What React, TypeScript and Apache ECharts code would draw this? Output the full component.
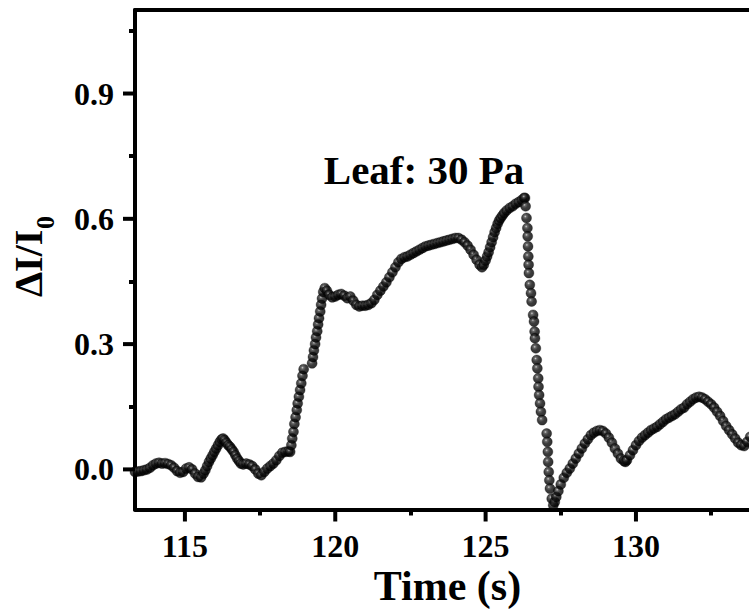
import { useEffect, useRef } from "react";
import * as echarts from "echarts";

// ---- data: [time (s), ΔI/I0] ----
const restPhase: [number, number][] = [
  [113.34, -0.006], [113.44, -0.005], [113.54, -0.004], [113.64, -0.002], [113.74, 0.0],
  [113.84, 0.004], [113.94, 0.01], [114.04, 0.014], [114.14, 0.016], [114.24, 0.014],
  [114.34, 0.015], [114.44, 0.013], [114.54, 0.01], [114.64, 0.004], [114.74, -0.004],
  [114.84, -0.008], [114.94, -0.006], [115.04, 0.002], [115.14, 0.005], [115.24, 0.0],
  [115.34, -0.01], [115.44, -0.018], [115.54, -0.019], [115.62, -0.01], [115.68, -0.002],
  [115.74, 0.008], [115.8, 0.018], [115.86, 0.026], [115.92, 0.034], [115.98, 0.042],
  [116.04, 0.05], [116.1, 0.058], [116.16, 0.066], [116.22, 0.072], [116.27, 0.074],
  [116.32, 0.07], [116.38, 0.064], [116.44, 0.058], [116.5, 0.054], [116.56, 0.048],
  [116.62, 0.042], [116.68, 0.034], [116.74, 0.026], [116.8, 0.02], [116.86, 0.014],
  [116.94, 0.012], [117.04, 0.014], [117.14, 0.012], [117.24, 0.008], [117.34, 0.0],
  [117.44, -0.01], [117.54, -0.014], [117.64, -0.006], [117.74, 0.002], [117.84, 0.008],
  [117.94, 0.014], [118.04, 0.022], [118.14, 0.032], [118.24, 0.04], [118.34, 0.042],
  [118.44, 0.043],
];

const riseDots: [number, number][] = [
  [118.5, 0.042], [118.54, 0.058], [118.57, 0.074], [118.61, 0.09], [118.64, 0.109],
  [118.68, 0.125], [118.72, 0.142], [118.75, 0.158], [118.79, 0.174], [118.83, 0.19],
  [118.87, 0.206], [118.91, 0.224], [118.95, 0.24],
  [119.23, 0.254], [119.26, 0.269], [119.29, 0.285], [119.33, 0.3], [119.36, 0.316],
  [119.4, 0.331], [119.43, 0.347], [119.46, 0.362], [119.5, 0.378], [119.53, 0.394],
  [119.56, 0.409], [119.6, 0.425],
];

const plateau: [number, number][] = [
  [119.65, 0.434], [119.72, 0.428], [119.8, 0.418], [119.9, 0.412], [120.0, 0.414],
  [120.1, 0.418], [120.2, 0.42], [120.3, 0.416], [120.4, 0.41], [120.5, 0.414],
  [120.6, 0.404], [120.7, 0.394], [120.8, 0.39], [120.9, 0.392], [121.0, 0.392],
  [121.1, 0.394], [121.2, 0.398], [121.3, 0.406], [121.4, 0.418], [121.5, 0.428],
  [121.6, 0.438], [121.7, 0.448], [121.8, 0.46], [121.9, 0.472], [122.0, 0.484],
  [122.1, 0.496], [122.2, 0.504], [122.3, 0.508], [122.4, 0.51], [122.5, 0.514],
  [122.6, 0.518], [122.7, 0.522], [122.8, 0.526], [122.9, 0.53], [123.0, 0.534],
  [123.1, 0.536], [123.2, 0.538], [123.3, 0.54], [123.4, 0.542], [123.5, 0.544],
  [123.6, 0.546], [123.7, 0.548], [123.8, 0.55], [123.9, 0.552], [124.0, 0.554],
  [124.1, 0.554], [124.2, 0.55], [124.3, 0.544], [124.4, 0.536], [124.5, 0.526],
  [124.6, 0.514], [124.7, 0.502], [124.8, 0.49], [124.88, 0.484], [124.94, 0.49],
  [125.0, 0.5], [125.05, 0.51], [125.1, 0.52], [125.15, 0.532], [125.2, 0.544],
  [125.25, 0.556], [125.3, 0.568], [125.35, 0.578], [125.4, 0.588], [125.45, 0.596],
  [125.5, 0.602], [125.56, 0.608], [125.62, 0.614], [125.7, 0.62], [125.8, 0.626],
  [125.9, 0.63], [126.0, 0.636], [126.1, 0.64], [126.2, 0.645], [126.28, 0.65],
];

const dropDots: [number, number][] = [
  [126.31, 0.65], [126.33, 0.63], [126.36, 0.602], [126.39, 0.578], [126.4, 0.558],
  [126.41, 0.534], [126.42, 0.51], [126.43, 0.49], [126.44, 0.47], [126.47, 0.442],
  [126.51, 0.422], [126.53, 0.402], [126.58, 0.37], [126.61, 0.354], [126.63, 0.33],
  [126.64, 0.314], [126.67, 0.29], [126.7, 0.262], [126.72, 0.242], [126.75, 0.218],
  [126.76, 0.198], [126.78, 0.178], [126.81, 0.158], [126.84, 0.138], [126.88, 0.118],
  [127.03, 0.086], [127.05, 0.066], [127.07, 0.042], [127.08, 0.018], [127.1, -0.006],
  [127.12, -0.026], [127.14, -0.046], [127.2, -0.07], [127.25, -0.086],
];

const recovery: [number, number][] = [
  [127.3, -0.078], [127.35, -0.066], [127.42, -0.052], [127.5, -0.036], [127.6, -0.02],
  [127.7, -0.008], [127.8, 0.002], [127.9, 0.014], [128.0, 0.026], [128.1, 0.038],
  [128.2, 0.05], [128.3, 0.062], [128.4, 0.072], [128.5, 0.082], [128.6, 0.088],
  [128.7, 0.092], [128.8, 0.094], [128.9, 0.092], [129.0, 0.086], [129.1, 0.076],
  [129.2, 0.064], [129.3, 0.05], [129.4, 0.038], [129.5, 0.026], [129.6, 0.02],
  [129.65, 0.018], [129.7, 0.022], [129.8, 0.034], [129.9, 0.046], [130.0, 0.058],
  [130.1, 0.068], [130.2, 0.076], [130.3, 0.082], [130.4, 0.088], [130.5, 0.094],
  [130.6, 0.098], [130.7, 0.102], [130.8, 0.108], [130.9, 0.114], [131.0, 0.12],
  [131.1, 0.124], [131.2, 0.128], [131.3, 0.132], [131.4, 0.138], [131.5, 0.144],
  [131.6, 0.148], [131.7, 0.156], [131.8, 0.162], [131.9, 0.168], [132.0, 0.172],
  [132.1, 0.174], [132.2, 0.172], [132.3, 0.168], [132.4, 0.162], [132.5, 0.156],
  [132.6, 0.148], [132.7, 0.138], [132.8, 0.128], [132.9, 0.116], [133.0, 0.104],
  [133.1, 0.094], [133.2, 0.084], [133.3, 0.074], [133.4, 0.064], [133.5, 0.058],
  [133.6, 0.056], [133.7, 0.066], [133.8, 0.078],
];

const xRange = [113.34, 135];
const yRange = [-0.096, 1.1];
const xMajorTicks = [115, 120, 125, 130];
const xMinorTicks = [117.5, 122.5, 127.5, 132.5];
const yMajorTicks = [0, 0.3, 0.6, 0.9];
const yMinorTicks = [0.15, 0.45, 0.75, 1.05];
const annotationText = "Leaf: 30 Pa";
const xTitle = "Time (s)";
const yTitleMain = "ΔI/I";
const yTitleSub = "0";

const FONT = "'Times New Roman', 'Liberation Serif', serif";
const MAJOR_LEN = 12;

export default function App() {
  const ref = useRef<HTMLDivElement>(null);

  useEffect(() => {
    if (!ref.current) return;
    const chart = echarts.init(ref.current, null, { renderer: "svg" });

    const sphere = new echarts.graphic.RadialGradient(0.38, 0.35, 0.62, [
      { offset: 0, color: "#c4c4c4" },
      { offset: 0.22, color: "#404040" },
      { offset: 0.55, color: "#0c0c0c" },
      { offset: 1, color: "#000000" },
    ]);

    const tickAxis = (range: number[], position: string, values: number[], length: number) => ({
      type: "value",
      min: range[0],
      max: range[1],
      position,
      axisLine: { show: false, onZero: false },
      axisTick: { show: true, length, customValues: values, lineStyle: { color: "#000", width: 4 } },
      axisLabel: { show: false },
      splitLine: { show: false },
    });

    const labelAxis = (
      range: number[],
      position: string,
      values: number[],
      margin: number,
      formatter: (v: number) => string
    ) => ({
      type: "value",
      min: range[0],
      max: range[1],
      position,
      axisLine: { show: true, onZero: false, lineStyle: { color: "#000", width: 4 } },
      axisTick: { show: false },
      axisLabel: {
        customValues: values,
        margin,
        color: "#000",
        fontSize: 32,
        fontWeight: "bold",
        fontFamily: FONT,
        formatter,
      },
      splitLine: { show: false },
    });

    const frameAxis = (range: number[], position: string) => ({
      type: "value",
      min: range[0],
      max: range[1],
      position,
      axisLine: { show: true, onZero: false, lineStyle: { color: "#000", width: 4 } },
      axisTick: { show: false },
      axisLabel: { show: false },
      splitLine: { show: false },
    });

    const points = [...restPhase, ...riseDots, ...plateau, ...dropDots, ...recovery];

    chart.setOption({
      animation: false,
      grid: { left: 135, right: 13.7, top: 10, bottom: 106.5 },
      xAxis: [
        labelAxis(xRange, "bottom", xMajorTicks, 20, (v) => String(Math.round(v))),
        tickAxis(xRange, "bottom", xMinorTicks, 6),
        frameAxis(xRange, "top"),
      ],
      yAxis: [
        labelAxis(yRange, "left", yMajorTicks, 21, (v) => v.toFixed(1)),
        tickAxis(yRange, "left", yMinorTicks, 6),
        frameAxis(yRange, "right"),
      ],
      series: [
        {
          type: "scatter",
          xAxisIndex: 0,
          yAxisIndex: 0,
          data: points,
          symbol: "circle",
          symbolSize: 10,
          itemStyle: { color: sphere, borderColor: "#000", borderWidth: 0.4 },
          emphasis: { disabled: true },
        },
      ],
    });

    // major ticks placed through the axes' own scales
    const xAxisPx = chart.convertToPixel({ yAxisIndex: 0 }, yRange[0]) as number;
    const yAxisPx = chart.convertToPixel({ xAxisIndex: 0 }, xRange[0]) as number;
    const tickStyle = { stroke: "#000", lineWidth: 4 };
    const xTickEls = xMajorTicks.map((v) => {
      const px = chart.convertToPixel({ xAxisIndex: 0 }, v) as number;
      return {
        type: "line",
        z: 10,
        silent: true,
        shape: { x1: px, y1: xAxisPx, x2: px, y2: xAxisPx + MAJOR_LEN },
        style: tickStyle,
      };
    });
    const yTickEls = yMajorTicks.map((v) => {
      const py = chart.convertToPixel({ yAxisIndex: 0 }, v) as number;
      return {
        type: "line",
        z: 10,
        silent: true,
        shape: { x1: yAxisPx - MAJOR_LEN, y1: py, x2: yAxisPx, y2: py },
        style: tickStyle,
      };
    });

    chart.setOption({
      graphic: [
        ...xTickEls,
        ...yTickEls,
        {
          type: "text",
          x: 424,
          y: 170,
          style: {
            text: annotationText,
            fill: "#000",
            fontSize: 41,
            fontWeight: "bold",
            fontFamily: FONT,
            align: "center",
            verticalAlign: "middle",
          },
        },
        {
          type: "text",
          x: 447.5,
          y: 586,
          style: {
            text: xTitle,
            fill: "#000",
            fontSize: 42,
            fontWeight: "bold",
            fontFamily: FONT,
            align: "center",
            verticalAlign: "middle",
          },
        },
        {
          type: "group",
          x: 28,
          y: 297,
          rotation: Math.PI / 2,
          children: [
            {
              type: "text",
              x: 0,
              y: 0,
              style: {
                text: yTitleMain,
                fill: "#000",
                fontSize: 40,
                fontWeight: "bold",
                fontFamily: FONT,
                align: "left",
                verticalAlign: "middle",
              },
            },
            {
              type: "text",
              x: 68,
              y: 17,
              style: {
                text: yTitleSub,
                fill: "#000",
                fontSize: 26,
                fontWeight: "bold",
                fontFamily: FONT,
                align: "left",
                verticalAlign: "middle",
              },
            },
          ],
        },
      ],
    });

    return () => chart.dispose();
  }, []);

  return (
    <div
      style={{
        position: "fixed",
        left: 0,
        top: 0,
        width: 749,
        height: 616,
        overflow: "hidden",
        background: "#fff",
      }}
    >
      <div ref={ref} style={{ width: 800, height: 616 }} />
    </div>
  );
}
